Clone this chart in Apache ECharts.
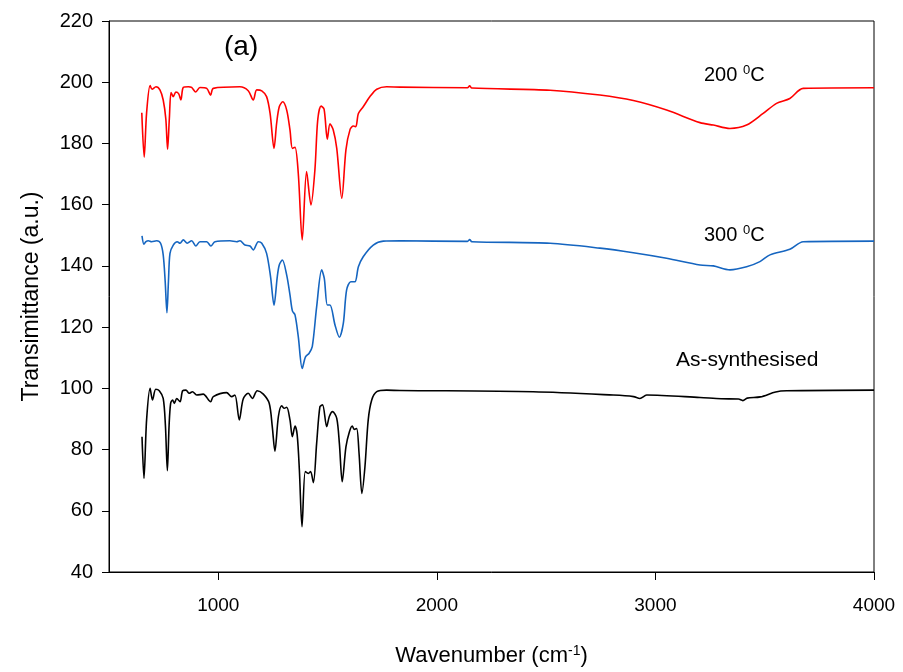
<!DOCTYPE html>
<html>
    <head>
        <meta charset="utf-8">
        <title>FTIR</title>
        <script src="https://cdn.jsdelivr.net/npm/echarts@6/dist/echarts.min.js"></script>
    </head>
    <body style="margin:0">
        <div id="main" style="width:903px; height:672px;"></div>
        <script type="text/javascript">
            // [wavenumber, transmittance]
            var spec200 = [[650,190],[661,175.5],[672,190],[688,198.9],[697,197.7],[715,198.5],[733,197.5],[748,194.2],[760,188],[768,178.1],[776,188],[784,196.6],[794,195.3],[806,196.8],[819,196.2],[829,194.2],[840,198.3],[863,198.5],[878,198.3],[897,196.8],[916,198.3],[947,198],[965,195.8],[977,198],[1099,198.5],[1137,197.2],[1160,194.2],[1176,197.5],[1199,197.2],[1221,195.3],[1237,189.8],[1255,178.4],[1267,186.6],[1279,192],[1295,193.6],[1313,190.9],[1328,184.4],[1339,178.4],[1351,178.7],[1366,170.2],[1384,148.5],[1404,170.8],[1424,159.9],[1442,171.3],[1455,187.7],[1470,192.2],[1484,191.2],[1499,181.4],[1511,186.4],[1526,184.4],[1542,178.4],[1565,162.1],[1584,177.9],[1603,184.6],[1618,185.7],[1629,185.5],[1641,189.8],[1663,192],[1694,195.3],[1725,197.7],[1770,198.5],[1831,198.4],[2140,198.2],[2150,198.8],[2160,198.1],[2518,197.4],[2746,195.8],[2899,194],[3051,190.9],[3204,186.8],[3265,186],[3341,184.9],[3417,186],[3493,189.8],[3554,193.1],[3615,194.7],[3676,198],[4000,198.2]]
            var spec300 = [[651,149.8],[660,147.1],[669,147.9],[680,148.2],[695,147.9],[718,148.2],[736,147.4],[748,143.6],[757,135],[765,124.7],[772,135],[779,144.1],[794,146.8],[812,147.9],[825,147.4],[840,148.5],[858,147.4],[878,148.2],[897,146.5],[916,147.9],[947,147.9],[966,146.5],[985,147.9],[1053,148.2],[1084,147.9],[1099,148.2],[1122,146.8],[1145,146.5],[1160,145.2],[1183,147.9],[1199,147.4],[1221,144.1],[1239,136.5],[1255,127.2],[1270,136.5],[1279,140.3],[1293,141.9],[1313,137],[1328,130.5],[1339,125.3],[1351,124],[1366,116.9],[1384,106.5],[1399,110.3],[1415,111.4],[1430,113.6],[1450,126.6],[1473,138.7],[1485,135.9],[1499,127.2],[1511,127.2],[1534,120.7],[1554,116.7],[1572,121.2],[1587,132.1],[1606,134.8],[1625,134.8],[1641,139.7],[1663,143],[1709,146.8],[1755,148.1],[1831,148.2],[2140,148],[2150,148.6],[2160,147.9],[2518,147.4],[2746,145.8],[2899,144.3],[3051,142.5],[3204,140.3],[3265,140],[3341,138.7],[3417,139.7],[3478,141.4],[3524,143.6],[3615,145.4],[3676,147.9],[4000,148.1]]
            var specAs = [[651,84.2],[660,70.6],[672,89.7],[688,100],[699,96.2],[714,99.7],[730,99.2],[748,96.7],[758,88],[767,73.1],[775,88],[782,95.1],[791,96.2],[799,95.1],[810,96.7],[825,95.6],[837,99.2],[852,99.4],[867,98.4],[882,98.9],[901,97.8],[931,98.1],[965,95.6],[977,97.3],[1038,98.6],[1061,97.3],[1076,97.8],[1096,89.7],[1114,96.5],[1137,98.4],[1156,96.7],[1178,99.2],[1206,98.1],[1233,95.1],[1247,87.5],[1259,79.5],[1275,90.8],[1290,94.3],[1302,93.5],[1313,93.8],[1328,89.7],[1339,84.2],[1351,87.7],[1361,84.8],[1371,73.3],[1383,54.8],[1398,72.8],[1412,72.2],[1422,72.8],[1435,69.2],[1450,82],[1465,94],[1477,94.6],[1496,87.5],[1508,90.8],[1523,92.4],[1542,90.2],[1554,82],[1567,69.5],[1584,80.9],[1600,85.8],[1613,87.7],[1622,86.6],[1633,86.9],[1644,78.8],[1657,65.7],[1671,74.4],[1686,89.7],[1702,96.2],[1725,98.9],[1770,99.4],[1831,99.3],[2441,98.9],[2807,97.8],[2900,97.3],[2929,96.7],[2960,97.8],[3204,97],[3300,96.6],[3380,96.5],[3400,96],[3420,96.8],[3480,97.2],[3550,98.8],[3600,99.2],[4000,99.4]]
            var xTicks = [1000, 2000, 3000, 4000]

            var font = 'Liberation Sans, Arial, sans-serif'
            var supRich = {
                a: {fontSize: 20, fontFamily: font, color: '#000'},
                s: {fontSize: 13, fontFamily: font, color: '#000', verticalAlign: 'top', padding: [0, 0, 10, 0]}
            }
            var myChart = echarts.init(document.querySelector("#main"))
            var option = {
                animation: false,
                grid: {
                    left: 109, right: 29, top: 21, bottom: 100,
                    show: true, borderColor: '#000', borderWidth: 1
                },
                xAxis: {
                    type: 'value',
                    min: 500,
                    max: 4000,
                    name: '{a|Wavenumber (cm}{s|-1}{a|)}',
                    nameLocation: 'middle',
                    nameGap: 72,
                    nameTextStyle: {
                        rich: {
                            a: {fontSize: 22, fontFamily: font, color: '#000'},
                            s: {fontSize: 14, fontFamily: font, color: '#000', verticalAlign: 'top', padding: [0, 0, 10, 0]}
                        }
                    },
                    axisLine: {lineStyle: {color: '#000', width: 1}},
                    axisTick: {length: 8, lineStyle: {color: '#000'}, customValues: xTicks},
                    axisLabel: {customValues: xTicks, margin: 24, fontSize: 19, fontFamily: font, color: '#000',
                        formatter: function(v) { return String(v) }},
                    splitLine: {show: false}
                },
                yAxis: {
                    type: 'value',
                    min: 40,
                    max: 220,
                    interval: 20,
                    name: 'Transimittance (a.u.)',
                    nameLocation: 'middle',
                    nameGap: 66,
                    nameTextStyle: {fontSize: 23, fontFamily: font, color: '#000'},
                    axisLine: {show: true, lineStyle: {color: '#000', width: 1}},
                    axisTick: {show: true, length: 7, lineStyle: {color: '#000'}},
                    axisLabel: {margin: 16, fontSize: 20, fontFamily: font, color: '#000'},
                    splitLine: {show: false}
                },
                series: [
                    {name: '200', type: 'line', data: spec200, showSymbol: false, smooth: 0.3, lineStyle: {color: '#ff0000', width: 1.6}},
                    {name: '300', type: 'line', data: spec300, showSymbol: false, smooth: 0.3, lineStyle: {color: '#1565c0', width: 1.6}},
                    {name: 'as', type: 'line', data: specAs, showSymbol: false, smooth: 0.3, lineStyle: {color: '#000', width: 1.6}}
                ],
                graphic: [
                    {type: 'text', left: 224, top: 33, style: {text: '(a)', fontSize: 28, fontFamily: font, fill: '#000'}},
                    {type: 'text', left: 704, top: 64, style: {text: '{a|200 }{s|0}{a|C}', rich: supRich}},
                    {type: 'text', left: 704, top: 224, style: {text: '{a|300 }{s|0}{a|C}', rich: supRich}},
                    {type: 'text', left: 676, top: 350, style: {text: 'As-synthesised', fontSize: 21, fontFamily: font, fill: '#000'}}
                ]
            }
            myChart.setOption(option)
        </script>
    </body>
</html>
